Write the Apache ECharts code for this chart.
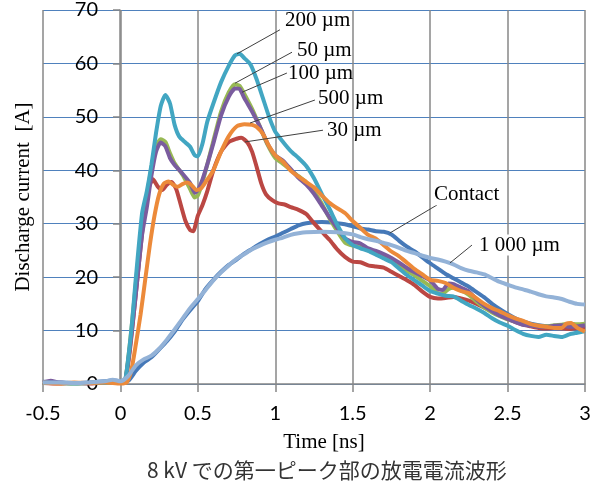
<!DOCTYPE html>
<html>
<head>
<meta charset="utf-8">
<script src="https://cdn.jsdelivr.net/npm/echarts@6/dist/echarts.min.js"></script>
<style>
  html, body { margin: 0; padding: 0; background: #fff; }
  #main { width: 592px; height: 489px; }
</style>
</head>
<body>
<div id="main"></div>
<script>
// 各系列の波形データ [time(ns), current(A)]
var contact = [[-0.5,0.4],[-0.4,0.3],[-0.3,0.2],[-0.2,0.3],[-0.1,0.5],[-0.05,0.7],[0,0.5],[0.05,0.6],[0.1,2.5],[0.15,4.0],[0.2,5.0],[0.25,6.5],[0.3,8.0],[0.35,9.8],[0.4,12.0],[0.45,13.8],[0.5,15.5],[0.55,17.8],[0.6,19.5],[0.65,21.0],[0.7,22.3],[0.75,23.3],[0.8,24.4],[0.85,25.3],[0.9,26.2],[0.95,27.0],[1.0,27.6],[1.05,28.3],[1.1,29.0],[1.15,29.7],[1.2,30.1],[1.3,30.3],[1.4,30.1],[1.45,29.9],[1.5,29.5],[1.55,29.1],[1.6,28.9],[1.65,28.6],[1.7,28.5],[1.75,28.0],[1.8,26.8],[1.85,25.7],[1.9,24.8],[1.95,23.7],[2.0,22.6],[2.05,21.6],[2.1,20.6],[2.15,19.8],[2.2,19.0],[2.25,18.2],[2.3,17.2],[2.35,16.2],[2.4,15.0],[2.45,14.0],[2.5,13.1],[2.55,12.3],[2.6,11.7],[2.65,11.3],[2.7,11.0],[2.75,10.8],[2.8,10.6],[2.85,10.6],[2.9,10.5],[2.95,10.4],[3.0,10.2]];
var gap30 = [[-0.5,0.2],[-0.4,0.1],[-0.3,0.2],[-0.2,0.1],[-0.1,0.3],[0,0.2],[0.03,0.5],[0.06,6],[0.1,17],[0.15,31],[0.18,36.5],[0.21,38.3],[0.24,37],[0.27,36.3],[0.3,37.3],[0.33,37.8],[0.36,36.5],[0.39,33.5],[0.42,30.5],[0.45,28.8],[0.47,28.6],[0.5,31.5],[0.53,33.5],[0.56,36],[0.6,40],[0.65,43.5],[0.7,45.3],[0.75,45.9],[0.78,46.1],[0.82,45.2],[0.85,43.5],[0.88,40.6],[0.91,37.5],[0.94,35.5],[0.98,34.4],[1.02,33.8],[1.06,33.6],[1.1,33.1],[1.15,32.6],[1.2,31.8],[1.25,30.1],[1.3,28.5],[1.35,27.0],[1.4,25.2],[1.45,23.8],[1.5,22.9],[1.55,22.8],[1.6,22.2],[1.65,22.0],[1.7,21.8],[1.75,21.0],[1.8,20.2],[1.85,19.4],[1.9,18.5],[1.95,17.3],[2.0,16.3],[2.05,16.0],[2.1,16.1],[2.15,16.3],[2.2,16.0],[2.25,15.6],[2.3,15.0],[2.35,14.3],[2.4,13.6],[2.45,13.0],[2.5,12.3],[2.55,11.6],[2.6,11.1],[2.65,10.8],[2.7,10.5],[2.75,10.4],[2.8,10.5],[2.85,10.4],[2.9,10.3],[2.95,10.5],[3.0,10.5]];
var gap50 = [[-0.5,0.2],[-0.4,0.2],[-0.3,0.1],[-0.2,0.2],[-0.1,0.3],[0,0.3],[0.03,0.5],[0.07,10],[0.1,19],[0.14,30],[0.17,35],[0.2,40.5],[0.23,44.5],[0.26,45.8],[0.29,45.3],[0.32,43.2],[0.35,41.3],[0.4,39.2],[0.45,36.5],[0.48,34.9],[0.5,35.3],[0.53,37.8],[0.56,41],[0.6,45.5],[0.65,51],[0.7,54.6],[0.74,56.1],[0.77,55.8],[0.8,54.3],[0.85,51.5],[0.9,48.2],[0.95,44.8],[1.0,42.3],[1.05,41.2],[1.1,40.0],[1.15,38.9],[1.2,37.8],[1.25,36.0],[1.3,33.8],[1.35,31.0],[1.4,28.6],[1.45,26.5],[1.5,25.9],[1.55,25.7],[1.6,25.0],[1.65,24.6],[1.7,24.0],[1.75,23.3],[1.8,22.3],[1.85,21.2],[1.9,20.3],[1.95,19.3],[2.0,18.3],[2.05,17.0],[2.08,16.9],[2.12,17.8],[2.15,18.0],[2.2,17.5],[2.25,16.7],[2.3,15.4],[2.35,14.3],[2.4,13.4],[2.45,12.7],[2.5,12.1],[2.55,11.7],[2.6,11.3],[2.65,11.0],[2.7,10.9],[2.75,10.8],[2.8,11.0],[2.85,11.1],[2.9,11.3],[2.95,11.2],[3.0,11.3]];
var gap100 = [[-0.5,0.3],[-0.45,0.6],[-0.4,0.3],[-0.3,0.2],[-0.2,0.2],[-0.1,0.3],[0,0.3],[0.03,0.5],[0.07,9],[0.1,17],[0.14,28],[0.17,33],[0.2,39],[0.23,43.5],[0.26,45.2],[0.29,44.5],[0.32,42.3],[0.35,41],[0.4,39.4],[0.45,37.6],[0.48,35.8],[0.5,36.3],[0.53,38.3],[0.56,41],[0.6,45],[0.65,50.3],[0.7,53.8],[0.74,55.3],[0.77,55.2],[0.8,53.5],[0.85,51],[0.9,48.2],[0.95,45],[1.0,42.8],[1.05,41.8],[1.1,40.2],[1.15,38.6],[1.2,37.3],[1.25,35.6],[1.3,33.4],[1.35,31.2],[1.4,29.2],[1.45,27.3],[1.5,26.6],[1.55,26.3],[1.6,25.4],[1.65,24.9],[1.7,24.3],[1.75,23.6],[1.8,22.7],[1.85,21.7],[1.9,20.9],[1.95,20.2],[2.0,19.4],[2.05,17.8],[2.08,17.6],[2.12,18.8],[2.15,18.7],[2.2,18.0],[2.25,17.3],[2.3,15.8],[2.35,14.6],[2.4,13.6],[2.45,12.8],[2.5,12.2],[2.55,11.6],[2.6,11.1],[2.65,10.9],[2.7,10.7],[2.75,10.7],[2.8,10.9],[2.85,11.0],[2.9,10.7],[2.95,10.8],[3.0,11.0]];
var gap200 = [[-0.5,0.3],[-0.4,0.2],[-0.3,0.1],[-0.2,0.2],[-0.1,0.2],[0,0.2],[0.03,0.5],[0.07,10],[0.1,20],[0.14,32],[0.17,36],[0.2,41],[0.23,47],[0.26,52],[0.29,54.1],[0.32,52.5],[0.35,48.5],[0.38,46.3],[0.42,45.2],[0.45,44.4],[0.48,42.8],[0.5,42.6],[0.53,45],[0.56,49],[0.6,52.5],[0.65,56.5],[0.7,59.6],[0.74,61.5],[0.77,61.8],[0.8,61],[0.84,59.8],[0.88,57],[0.92,53.5],[0.96,50],[1.0,47.2],[1.05,45.3],[1.1,43.6],[1.15,42.3],[1.2,40.8],[1.25,38.5],[1.3,35.6],[1.35,32.8],[1.4,29.8],[1.45,27.3],[1.5,26.0],[1.55,25.4],[1.6,24.9],[1.65,24.2],[1.7,23.5],[1.75,22.8],[1.8,21.6],[1.85,20.4],[1.9,19.4],[1.95,18.4],[2.0,17.4],[2.05,16.9],[2.1,16.5],[2.15,16.4],[2.2,15.6],[2.25,14.8],[2.3,14.1],[2.35,13.3],[2.4,12.3],[2.45,11.5],[2.5,10.9],[2.55,10.1],[2.6,9.4],[2.65,9.0],[2.7,8.8],[2.75,9.2],[2.8,9.0],[2.85,8.8],[2.9,9.3],[2.95,9.6],[3.0,9.9]];
var gap500 = [[-0.5,0.3],[-0.4,0.1],[-0.3,0.3],[-0.2,0.2],[-0.1,0.3],[0,0.1],[0.04,0.3],[0.07,2.5],[0.1,7.5],[0.13,13],[0.16,19.5],[0.19,26],[0.22,31.5],[0.25,35.5],[0.28,37.5],[0.31,37.9],[0.34,37.3],[0.37,36.9],[0.4,37.4],[0.43,37.7],[0.46,37.2],[0.49,36.3],[0.52,36.6],[0.55,37.8],[0.6,40],[0.65,43.5],[0.7,46.4],[0.75,48.2],[0.8,48.6],[0.85,48.5],[0.88,48.1],[0.92,46.8],[0.96,44.5],[1.0,42.8],[1.05,41.6],[1.1,39.9],[1.15,38.8],[1.2,37.8],[1.25,36.8],[1.3,35.3],[1.35,33.9],[1.4,32.9],[1.45,32.0],[1.5,30.5],[1.55,29.2],[1.6,27.9],[1.65,27.2],[1.7,26.0],[1.75,24.8],[1.8,23.9],[1.85,22.7],[1.9,21.5],[1.95,20.5],[2.0,19.5],[2.05,19.3],[2.1,18.9],[2.15,18.0],[2.2,17.4],[2.25,17.0],[2.3,16.0],[2.35,15.0],[2.4,14.2],[2.45,13.6],[2.5,12.9],[2.55,12.3],[2.6,11.8],[2.65,11.2],[2.7,10.9],[2.75,10.7],[2.8,10.5],[2.85,10.5],[2.88,11.3],[2.91,11.4],[2.95,10.5],[3.0,9.8]];
var gap1000 = [[-0.5,0.3],[-0.4,0.3],[-0.3,0.2],[-0.2,0.3],[-0.1,0.5],[-0.05,0.8],[0,0.5],[0.05,1.5],[0.1,3.5],[0.15,4.6],[0.2,5.3],[0.25,6.6],[0.3,8.3],[0.35,10.2],[0.4,12.2],[0.45,14.2],[0.5,15.9],[0.55,17.6],[0.6,19.4],[0.65,20.9],[0.7,22.2],[0.75,23.4],[0.8,24.3],[0.85,25.2],[0.9,25.9],[0.95,26.5],[1.0,27.0],[1.05,27.4],[1.1,27.9],[1.15,28.2],[1.2,28.4],[1.3,28.5],[1.4,28.4],[1.5,28.0],[1.55,27.5],[1.6,27.1],[1.65,26.8],[1.7,26.4],[1.75,26.0],[1.8,25.5],[1.85,24.9],[1.9,24.5],[1.95,24.0],[2.0,23.6],[2.05,23.3],[2.1,22.9],[2.15,22.4],[2.2,21.7],[2.25,21.2],[2.3,20.9],[2.35,20.5],[2.4,19.8],[2.45,19.1],[2.5,18.6],[2.55,18.1],[2.6,17.7],[2.65,17.3],[2.7,16.8],[2.75,16.4],[2.8,16.2],[2.85,15.9],[2.9,15.4],[2.95,15.0],[3.0,14.9]];

var seriesNames = ["Contact", "30 µm", "50 µm", "100 µm", "200 µm", "500 µm", "1 000 µm"];
var seriesData = [contact, gap30, gap50, gap100, gap200, gap500, gap1000];
var seriesColors = ["#4679b8", "#bb4743", "#98b954", "#7a5c9e", "#42a6c2", "#ec8a3a", "#93b2d7"];

// 引き出し線 [始点t, 始点I, 終点t, 終点I, 文字t, 文字I, 文字]
var notes = [
  [0.753, 61.8, 1.030, 66.3, 1.063, 68.1, "200 µm"],
  [0.740, 56.3, 1.108, 62.1, 1.140, 62.5, "50 µm"],
  [0.785, 54.6, 1.075, 58.2, 1.082, 58.2, "100 µm"],
  [0.837, 48.85, 1.256, 53.15, 1.276, 53.5, "500 µm"],
  [0.804, 45.3, 1.308, 47.5, 1.334, 47.5, "30 µm"],
  [1.740, 28.26, 2.044, 33.5, 2.018, 35.4, "Contact"],
  [2.128, 22.65, 2.270, 26.0, 2.309, 26.0, "1 000 µm"]
];

var myChart = echarts.init(document.getElementById("main"));

var gray = "#878787";
var series = [];
for (var i = 0; i < seriesData.length; i++) {
  series.push({
    name: seriesNames[i],
    type: "line",
    data: seriesData[i],
    showSymbol: false,
    smooth: 0.2,
    lineStyle: { width: 4, color: seriesColors[i] },
    itemStyle: { color: seriesColors[i] }
  });
}

var option = {
  animation: false,
  backgroundColor: "#fff",
  title: {
    text: "8 kV での第一ピーク部の放電電流波形",
    left: 147,
    top: 460,
    padding: 0,
    textStyle: {
      fontFamily: "Noto Sans CJK JP",
      fontSize: 21,
      fontWeight: "normal",
      color: "#333"
    }
  },
  grid: { left: 43, right: 7, top: 10, bottom: 105, containLabel: false, outerBoundsMode: "none" },
  xAxis: {
    type: "value",
    min: -0.5,
    max: 3,
    interval: 0.5,
    name: "Time [ns]",
    nameLocation: "middle",
    nameGap: 48,
    nameTextStyle: {
      fontFamily: "Liberation Serif",
      fontSize: 21,
      color: "#000",
      padding: [0, 0, 0, 20]
    },
    axisLine: { lineStyle: { color: gray, width: 1.5 } },
    axisTick: { show: true, length: 8, lineStyle: { color: gray, width: 1.5 } },
    axisLabel: { fontFamily: "Lato", fontSize: 20, color: "#000", margin: 20 },
    splitLine: { show: true, lineStyle: { color: gray, width: 1.5 } }
  },
  yAxis: {
    type: "value",
    min: 0,
    max: 70,
    interval: 10,
    offset: -77, // 縦軸は t=0 の位置
    name: "Discharge current  [A]",
    nameLocation: "middle",
    nameGap: 86,
    nameTextStyle: {
      fontFamily: "Liberation Serif",
      fontSize: 21,
      color: "#000"
    },
    axisLine: { show: true, onZero: false, lineStyle: { color: gray, width: 1.5 } },
    axisTick: { show: true, length: 7, lineStyle: { color: gray, width: 1.5 } },
    axisLabel: { fontFamily: "Lato", fontSize: 20, color: "#000", margin: 22 },
    splitLine: { show: true, lineStyle: { color: "#4f81bd", width: 1 } }
  },
  series: series
};

myChart.setOption(option);

// 引き出し線とラベル
var graphics = [];
notes.forEach(function (n) {
  var p1 = myChart.convertToPixel({ gridIndex: 0 }, [n[0], n[1]]);
  var p2 = myChart.convertToPixel({ gridIndex: 0 }, [n[2], n[3]]);
  var pt = myChart.convertToPixel({ gridIndex: 0 }, [n[4], n[5]]);
  graphics.push({
    type: "line",
    shape: { x1: p1[0], y1: p1[1], x2: p2[0], y2: p2[1] },
    style: { stroke: "#404040", lineWidth: 1 },
    z: 100
  });
  var bg = (n[6] === "Contact" || n[6] === "1 000 µm");
  graphics.push({
    type: "text",
    z: 101,
    style: {
      text: n[6],
      x: pt[0],
      y: pt[1],
      fill: "#000",
      font: '21px "Liberation Serif"',
      verticalAlign: "middle",
      align: "left",
      backgroundColor: bg ? "#fff" : null,
      padding: bg ? [0, 1] : 0
    }
  });
});
myChart.setOption({ graphic: graphics });
</script>
</body>
</html>
